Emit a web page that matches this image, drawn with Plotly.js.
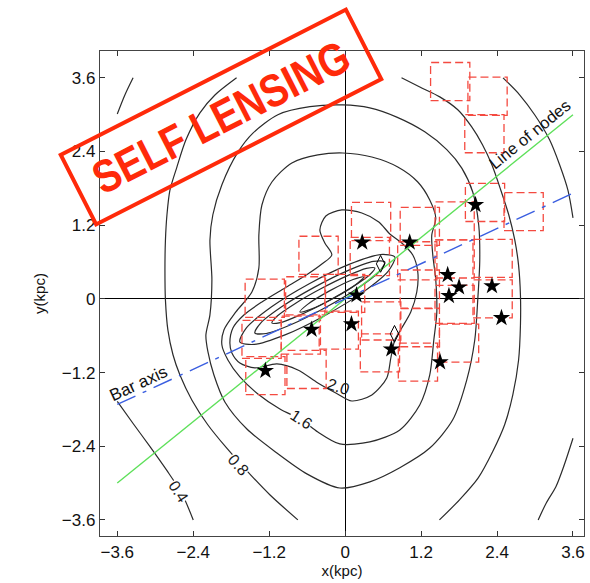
<!DOCTYPE html>
<html>
<head>
<meta charset="utf-8">
<script src="https://cdn.plot.ly/plotly-3.0.1.min.js"></script>
<style>
  html, body { margin: 0; padding: 0; background: #fff; }
  #chart { width: 590px; height: 583px; }
</style>
</head>
<body>
<div id="chart"></div>
<script>
// ---- axis ticks ----
const tickVals = [-3.6, -2.4, -1.2, 0, 1.2, 2.4, 3.6];
const tickText = ['\u22123.6', '\u22122.4', '\u22121.2', '0', '1.2', '2.4', '3.6'];

// ---- surface-density contours (kpc) ----
// level 0.4 (corner arcs)
const c04tlX = [-3.60, -3.48, -3.35];
const c04tlY = [3.01, 3.32, 3.60];
const c04trX = [2.495, 2.76, 3.00, 3.23, 3.39, 3.52, 3.60];
const c04trY = [3.60, 3.32, 2.99, 2.59, 2.18, 1.77, 1.32];
const c04llX = [-3.60, -3.35, -3.08, -2.82, -2.58, -2.40];
const c04llY = [-1.67, -2.03, -2.41, -2.79, -3.17, -3.60];
const c04brX = [3.05, 3.18, 3.33, 3.46, 3.60];
const c04brY = [-3.60, -3.32, -3.06, -2.71, -2.27];
// level 0.8 (left and right branches)
const c08lX = [-1.715, -2.057, -2.294, -2.515, -2.657, -2.768, -2.815, -2.839, -2.847, -2.839, -2.80, -2.72, -2.61, -2.42, -2.17, -1.88, -1.57, -1.19, -0.747];
const c08lY = [3.60, 3.32, 3.03, 2.59, 2.15, 1.77, 1.37, 0.96, 0.47, -0.02, -0.51, -0.91, -1.24, -1.65, -2.05, -2.42, -2.78, -3.19, -3.60];
const c08rX = [0.891, 1.18, 1.495, 1.78, 2.0, 2.17, 2.32, 2.46, 2.585, 2.68, 2.74, 2.77, 2.77, 2.74, 2.65, 2.52, 2.33, 2.10, 1.81, 1.49];
const c08rY = [3.60, 3.45, 3.29, 3.08, 2.80, 2.51, 2.18, 1.77, 1.37, 0.96, 0.55, 0.06, -0.43, -1.0, -1.56, -2.05, -2.49, -2.92, -3.27, -3.60];
// level 1.2
const c12X = [-0.036, 0.39, 0.816, 1.258, 1.606, 1.843, 2.016, 2.111, 2.127, 2.095, 2.048, 1.922, 1.70, 1.337, 0.864, 0.39, -0.084, -0.605, -1.078, -1.552, -1.90, -2.073, -2.168, -2.20, -2.136, -2.105, -2.136, -2.09, -1.947, -1.694, -1.457, -1.063, -0.557, -0.036];
const c12Y = [3.158, 3.11, 2.96, 2.72, 2.43, 2.13, 1.74, 1.20, 0.63, -0.02, -0.67, -1.32, -1.97, -2.43, -2.75, -2.98, -3.08, -2.85, -2.51, -2.12, -1.68, -1.24, -0.86, -0.59, -0.26, 0.31, 0.96, 1.37, 1.86, 2.39, 2.70, 3.0, 3.13, 3.158];
// level 1.6
const c16X = [-0.036, 0.422, 0.832, 1.148, 1.337, 1.432, 1.369, 1.385, 1.432, 1.448, 1.401, 1.337, 1.179, 0.864, 0.390, -0.084, -0.431, -0.684, -1.031, -1.378, -1.663, -1.852, -1.947, -1.915, -1.726, -1.473, -1.363, -1.363, -1.315, -1.157, -0.842, -0.431, -0.036];
const c16Y = [2.376, 2.311, 2.148, 1.904, 1.611, 1.318, 1.041, 0.715, 0.308, -0.230, -0.669, -1.239, -1.728, -2.135, -2.330, -2.363, -2.168, -1.973, -1.794, -1.549, -1.272, -0.995, -0.751, -0.507, -0.213, 0.112, 0.503, 1.041, 1.529, 1.904, 2.213, 2.344, 2.376];
// level 2.0
const c20X = [-1.821, -1.773, -1.600, -1.315, -0.952, -0.589, -0.368, -0.210, -0.321, -0.399, -0.305, -0.052, 0.264, 0.532, 0.706, 0.895, 1.069, 1.148, 1.132, 1.037, 0.895, 0.785, 0.722, 0.658, 0.422, 0.106, -0.147, -0.431, -0.747, -1.078, -1.426, -1.663, -1.789, -1.821];
const c20Y = [-0.718, -0.474, -0.262, -0.050, 0.178, 0.406, 0.568, 0.715, 0.910, 1.122, 1.350, 1.448, 1.399, 1.253, 1.057, 0.910, 0.715, 0.438, 0.112, -0.214, -0.474, -0.669, -0.963, -1.288, -1.565, -1.663, -1.532, -1.369, -1.158, -1.060, -1.125, -1.044, -0.881, -0.718];
// bar levels 2.4 .. 3.6
const c24X = [0.785, 0.557, 0.062, -0.567, -1.162, -1.563, -1.663, -1.435, -0.940, -0.311, 0.284, 0.685, 0.785];
const c24Y = [0.682, 0.722, 0.562, 0.246, -0.130, -0.476, -0.702, -0.742, -0.582, -0.266, 0.110, 0.456, 0.682];
const c28X = [0.627, 0.447, 0.042, -0.483, -0.986, -1.331, -1.426, -1.247, -0.842, -0.317, 0.186, 0.531, 0.627];
const c28Y = [0.601, 0.610, 0.460, 0.191, -0.118, -0.392, -0.555, -0.564, -0.414, -0.145, 0.164, 0.438, 0.601];
const c32X = [0.469, 0.336, 0.021, -0.392, -0.793, -1.072, -1.157, -1.024, -0.709, -0.296, 0.105, 0.384, 0.469];
const c32Y = [0.503, 0.497, 0.370, 0.160, -0.078, -0.279, -0.393, -0.387, -0.260, -0.050, 0.188, 0.389, 0.503];
const c36X = [0.295, 0.126, -0.239, -0.588, -0.715, -0.546, -0.181, 0.168, 0.295];
const c36Y = [0.357, 0.316, 0.134, -0.086, -0.213, -0.172, 0.010, 0.230, 0.357];

// contour labels
const levelText = ['0.4', '0.8', '1.6', '2.0'];
const levelX = [-2.637, -1.696, -0.69, -0.115];
const levelY = [-3.140, -2.705, -1.97, -1.435];

// ---- field centres (kpc) ----
const fieldX = [1.66, 2.25, 2.20, 2.21, 2.82, 0.41, 1.18, 1.73, -0.42, 0.39, 1.14, 1.73, 2.33, -1.27, 0.00, -0.70, -0.10, -1.32, -1.26, -0.61, 0.55, 1.15, 1.18, 1.73, 1.80, 2.33, -0.63, 0.57, 1.18];
const fieldY = [3.54, 3.30, 2.69, 1.57, 1.42, 1.26, 1.18, 1.27, 0.71, 0.69, 0.62, 0.65, 0.66, 0.01, 0.09, -0.59, -0.51, -0.66, -1.25, -1.15, -0.88, -1.03, -0.47, -0.09, -0.72, 0.00, 0.05, -0.36, 0.16];

// ---- events (kpc) ----
const starX = [-1.26, -0.53, 0.10, 0.18, 0.27, 1.02, 2.06, 1.62, 1.80, 1.64, 2.32, 2.47, 0.73, 1.50];
const starY = [-1.17, -0.50, -0.41, 0.06, 0.92, 0.92, 1.53, 0.39, 0.19, 0.05, 0.21, -0.31, -0.82, -1.03];
const diamondX = [0.56, 0.78];
const diamondY = [0.57, -0.57];

// ---- reference lines ----
const nodesX = [-3.6, 3.6];
const nodesY = [-3.0, 3.0];
const barX = [-3.6, 3.6];
const barY = [-1.72, 1.72];

// ---------------------------------------------------------------
const FONT = 'Liberation Sans, Arial, Helvetica, sans-serif';
const STAMP_TEXT = 'SELF LENSING';
const contourLine = { color: '#2b2b2b', width: 1.2, shape: 'spline', smoothing: 0.8 };

function contour(x, y) {
  return { type: 'scatter', mode: 'lines', x: x, y: y, line: contourLine,
           hoverinfo: 'skip', showlegend: false, cliponaxis: true };
}

const traces = [
  contour(c04tlX, c04tlY), contour(c04trX, c04trY), contour(c04llX, c04llY), contour(c04brX, c04brY),
  contour(c08lX, c08lY), contour(c08rX, c08rY),
  contour(c12X, c12Y), contour(c16X, c16Y), contour(c20X, c20Y),
  contour(c24X, c24Y), contour(c28X, c28Y), contour(c32X, c32Y), contour(c36X, c36Y)
];

// dashed field outlines, one closed square per field
const HALF = 0.31;
const boxX = [], boxY = [];
fieldX.forEach((cx, i) => {
  const cy = fieldY[i];
  boxX.push(cx - HALF, cx + HALF, cx + HALF, cx - HALF, cx - HALF, null);
  boxY.push(cy - HALF, cy - HALF, cy + HALF, cy + HALF, cy - HALF, null);
});
traces.push({ type: 'scatter', mode: 'lines', x: boxX, y: boxY, connectgaps: false,
  line: { color: '#f44a40', width: 1.3, dash: '8px,4px' }, hoverinfo: 'skip', showlegend: false });

// line of nodes and bar axis
traces.push({ type: 'scatter', mode: 'lines', x: nodesX, y: nodesY,
  line: { color: '#5ee05a', width: 1.4 }, hoverinfo: 'skip', showlegend: false });
traces.push({ type: 'scatter', mode: 'lines', x: barX, y: barY,
  line: { color: '#3a5ee0', width: 1.4, dash: '20px,8px,4px,8px' }, hoverinfo: 'skip', showlegend: false });

// events
traces.push({ type: 'scatter', mode: 'markers', x: starX, y: starY,
  marker: { symbol: 'star', size: 13, color: '#000', line: { width: 0 } }, hoverinfo: 'skip', showlegend: false });
traces.push({ type: 'scatter', mode: 'markers', x: diamondX, y: diamondY,
  marker: { symbol: 'diamond-tall-open', size: 12, color: '#000', line: { width: 1 } }, hoverinfo: 'skip', showlegend: false });

// labels
const levelAngles = [57, 48, 33, 18];
const annotations = levelText.map((t, i) => ({
  x: levelX[i], y: levelY[i], xref: 'x', yref: 'y', text: t, showarrow: false,
  textangle: levelAngles[i], bgcolor: i < 3 ? '#ffffff' : 'rgba(0,0,0,0)', borderpad: 0,
  font: { family: FONT, size: 16, color: '#1a1a1a' }
}));
annotations.push({ x: 2.917, y: 2.686, xref: 'x', yref: 'y', text: 'Line of nodes', showarrow: false,
  textangle: -39, font: { family: FONT, size: 16.5, color: '#111' } });
annotations.push({ x: -3.258, y: -1.383, xref: 'x', yref: 'y', text: 'Bar axis', showarrow: false,
  textangle: -25, font: { family: FONT, size: 17, color: '#111' } });
annotations.push({ x: 0.25, y: 0.864, xref: 'paper', yref: 'paper', xanchor: 'center', yanchor: 'middle',
  text: '<b>' + STAMP_TEXT + '</b>', showarrow: false, textangle: -27,
  font: { family: FONT, size: 46, color: '#ff2a0a' },
  bordercolor: '#ff2a0a', borderwidth: 4, borderpad: 6, width: 304, height: 62 });

const axisCommon = {
  tickvals: tickVals, ticktext: tickText, ticks: 'inside', ticklen: 5, tickwidth: 1, tickcolor: '#333',
  showline: true, linecolor: '#444', linewidth: 1.2, mirror: 'ticks', showgrid: false,
  zeroline: true, zerolinecolor: '#000', zerolinewidth: 1.2,
  tickfont: { family: FONT, size: 17, color: '#111' }
};

const layout = {
  width: 590, height: 583,
  margin: { l: 100, r: 6, t: 51, b: 47 },
  paper_bgcolor: '#fff', plot_bgcolor: '#fff',
  showlegend: false,
  xaxis: Object.assign({}, axisCommon, { range: [-3.873, 3.774],
    title: { text: 'x(kpc)', font: { family: FONT, size: 15, color: '#111' }, standoff: 4 } }),
  yaxis: Object.assign({}, axisCommon, { range: [-3.862, 4.037],
    title: { text: 'y(kpc)', font: { family: FONT, size: 15, color: '#111' }, standoff: 12 } }),
  annotations: annotations
};

Plotly.newPlot('chart', traces, layout, { displayModeBar: false, staticPlot: true }).then(() => {
  // squeeze the stamp lettering horizontally so the tall capitals fit the frame
  document.querySelectorAll('#chart .annotation-text').forEach(el => {
    if (el.textContent === STAMP_TEXT) {
      el.setAttribute('textLength', '282');
      el.setAttribute('lengthAdjust', 'spacingAndGlyphs');
    }
  });
});
</script>
</body>
</html>
